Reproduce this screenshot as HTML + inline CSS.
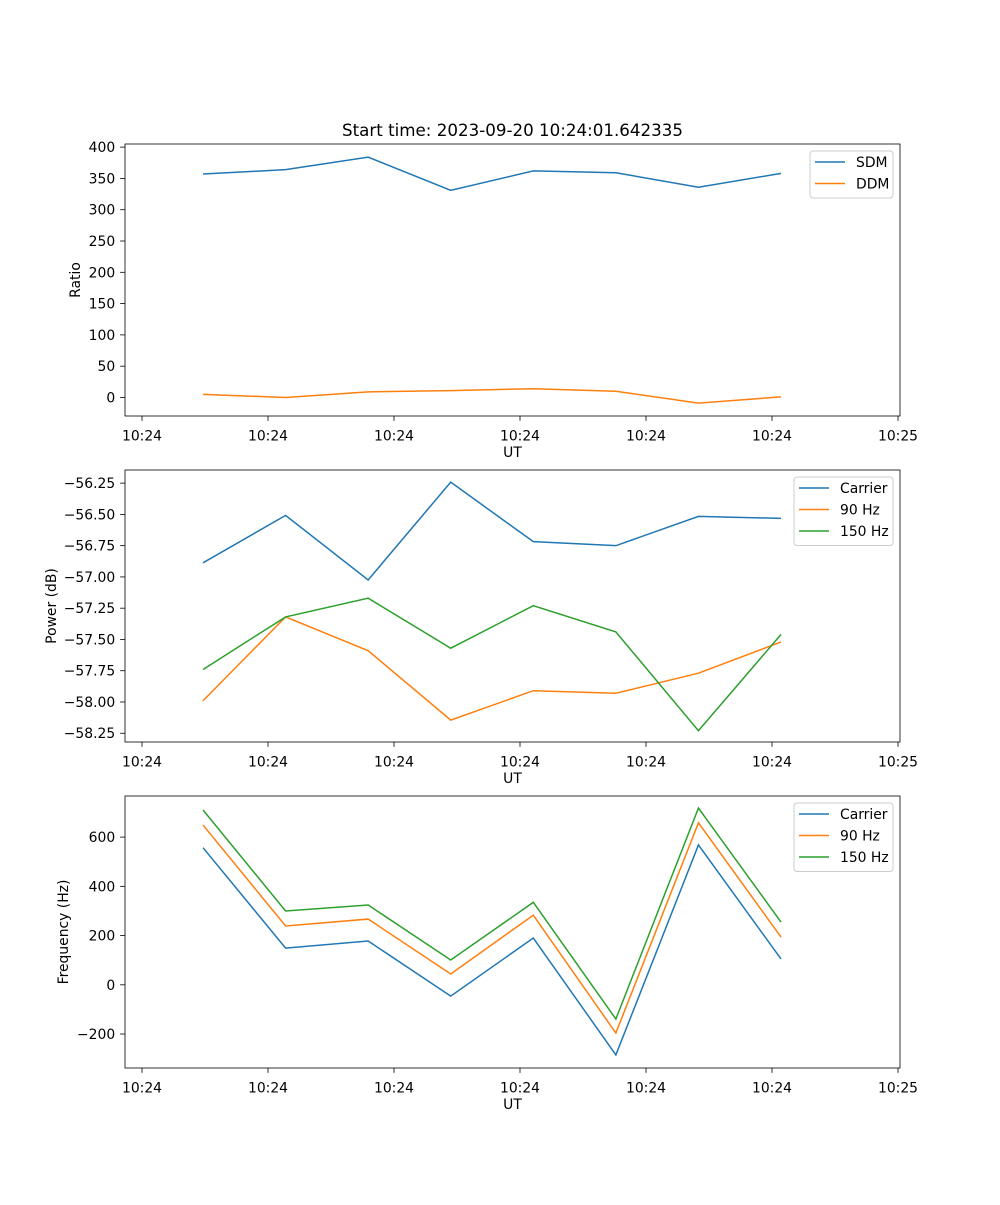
<!DOCTYPE html>
<html><head><meta charset="utf-8"><style>
body{margin:0;background:#fff}
svg text{font-family:"DejaVu Sans","Liberation Sans",sans-serif;font-size:13.9px;fill:#000}
</style></head><body>
<svg id="c" width="1000" height="1200" xmlns="http://www.w3.org/2000/svg"></svg>
<script>
const title = "Start time: 2023-09-20 10:24:01.642335";
const xIndex = [0,1,2,3,4,5,6,7];
const xTickVals = [-0.739,0.787,2.313,3.839,5.365,6.891,8.417];
const xTickLabels = ["10:24","10:24","10:24","10:24","10:24","10:24","10:25"];
const sdm = [357,364,384,331,362,359,336,358];
const ddm = [5,0,9,11,14,10,-9,1];
const powCarrier = [-56.887,-56.508,-57.024,-56.242,-56.718,-56.75,-56.516,-56.532];
const pow90 = [-57.99,-57.32,-57.59,-58.145,-57.91,-57.93,-57.77,-57.52];
const pow150 = [-57.74,-57.32,-57.17,-57.57,-57.23,-57.44,-58.23,-57.46];
const freqCarrier = [557,149,178,-46,190,-285,568,105];
const freq90 = [649,239,267,44,283,-196,658,194];
const freq150 = [710,300,324,101,335,-139,718,255];
const yTicks1 = [0,50,100,150,200,250,300,350,400];
const yTicks2 = [-58.25,-58.0,-57.75,-57.5,-57.25,-57.0,-56.75,-56.5,-56.25];
const yTicks3 = [-200,0,200,400,600];

const NS="http://www.w3.org/2000/svg";
const svg=document.getElementById('c');
function mk(tag,attrs,parent){const e=document.createElementNS(NS,tag);for(const k in attrs)e.setAttribute(k,attrs[k]);(parent||svg).appendChild(e);return e;}
const L=125,R=900;
const xMin=-0.739-(142-125)/82.57, xMax=xMin+(R-L)/82.57;
const xs=v=>L+(v-xMin)/(xMax-xMin)*(R-L);
const colors=["#1f77b4","#ff7f0e","#2ca02c"];

function panel(name,top,bot,yMin,yMax,yTicks,fmt,ylabel,ylx,series,labels,legX,legW){
  const g=mk('g',{});
  
  
  const ys=v=>bot-(v-yMin)/(yMax-yMin)*(bot-top);
  xTickVals.forEach((t,i)=>{const x=xs(t);
    const tk=mk('line',{x1:x,x2:x,y1:bot,y2:bot+4.9,stroke:'#000','stroke-width':0.8},g);
    
    const tx=mk('text',{x:x,y:bot+24.5,'text-anchor':'middle'},g);tx.textContent=xTickLabels[i];
    });
  yTicks.forEach(t=>{const y=ys(t);
    const tk=mk('line',{x1:L-4.9,x2:L,y1:y,y2:y,stroke:'#000','stroke-width':0.8},g);
    
    const tx=mk('text',{x:L-9.8,y:y+5,'text-anchor':'end'},g);tx.textContent=fmt(t);
    });
  series.forEach((s,k)=>{
    const p=mk('polyline',{points:s.map((v,i)=>xs(xIndex[i])+','+ys(v)).join(' '),fill:'none',stroke:colors[k],'stroke-width':1.5},g);
    
    });
  const fr=mk('rect',{x:L,y:top,width:R-L,height:bot-top,fill:'none',stroke:'#000','stroke-width':0.8},g);
  
  const xl=mk('text',{x:(L+R)/2,y:bot+41,'text-anchor':'middle'},g);xl.textContent='UT';
  
  const cy=(top+bot)/2;
  const yl=mk('text',{x:ylx,y:cy,'text-anchor':'middle',transform:`rotate(-90 ${ylx} ${cy})`},g);yl.textContent=ylabel;
  
  const lg=mk('g',{},g);
  
  mk('rect',{x:legX,y:top+7,width:legW,height:labels.length*21.5+4,rx:3,fill:'#fff',stroke:'#ccc','stroke-width':1},lg);
  labels.forEach((lab,k)=>{const y=top+18+k*21.5;
    const le=mk('g',{},lg);
    
    mk('line',{x1:legX+5,x2:legX+35,y1:y,y2:y,stroke:colors[k],'stroke-width':1.5},le);
    const t=mk('text',{x:legX+46,y:y+5},le);t.textContent=lab;});
}
const tt=mk('text',{x:512.5,y:136,'text-anchor':'middle',style:'font-size:16.7px'});
tt.textContent=title;


panel('ratio-panel',144,416,-29.6,405,yTicks1,v=>String(v),'Ratio',80,[sdm,ddm],['SDM','DDM'],810,83);
panel('power-panel',470,742,-58.32,-56.145,yTicks2,v=>(v<0?'\u2212':'')+Math.abs(v).toFixed(2),'Power (dB)',56,[powCarrier,pow90,pow150],['Carrier','90 Hz','150 Hz'],794,99);
panel('frequency-panel',796,1068,-338,767,yTicks3,v=>(v<0?'\u2212':'')+Math.abs(v),'Frequency (Hz)',68,[freqCarrier,freq90,freq150],['Carrier','90 Hz','150 Hz'],794,99);
</script>
</body></html>
